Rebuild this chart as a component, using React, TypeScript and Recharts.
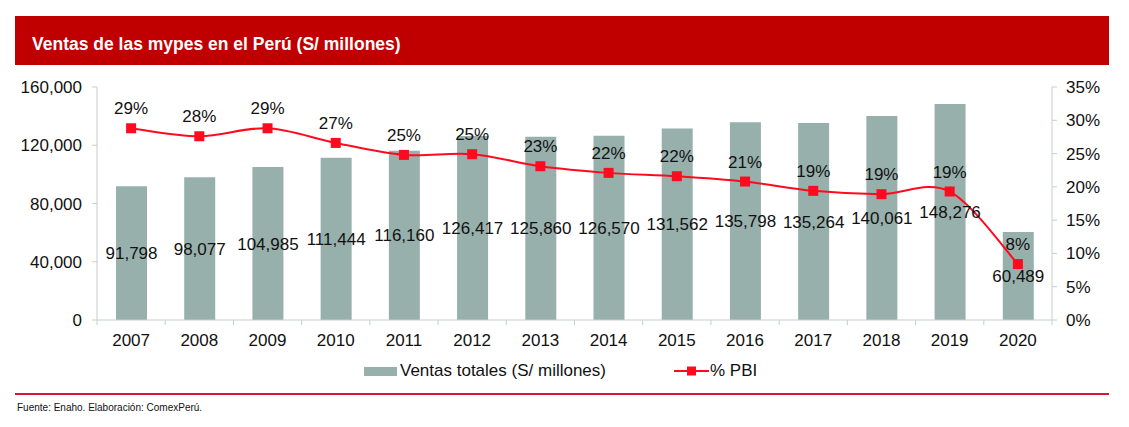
import { ComposedChart, Bar, Line, XAxis, YAxis, LabelList } from "recharts";

const years = ["2007", "2008", "2009", "2010", "2011", "2012", "2013", "2014", "2015", "2016", "2017", "2018", "2019", "2020"];
const ventas = [91798, 98077, 104985, 111444, 116160, 126417, 125860, 126570, 131562, 135798, 135264, 140061, 148276, 60489];
const pbi = [28.8, 27.6, 28.8, 26.6, 24.8, 24.9, 23.1, 22.1, 21.6, 20.8, 19.4, 18.9, 19.3, 8.4];
const leftTicks = [0, 40000, 80000, 120000, 160000];
const rightTicks = [0, 5, 10, 15, 20, 25, 30, 35];

const data = years.map((y, i) => ({ year: y, ventas: ventas[i], pbi: pbi[i] }));

const FONT = "'Liberation Sans', Arial, sans-serif";
const BAR = "#98B0AC";
const RED = "#FF0A1E";
const AXIS = "#C5CFCC";
const BAND = (1052 - 97) / years.length;

// Excel-like smoothing (Catmull-Rom through every point)
function excelCurve(context: any) {
  let pts: number[][] = [];
  return {
    areaStart() {},
    areaEnd() {},
    lineStart() {
      pts = [];
    },
    point(x: number, y: number) {
      pts.push([x, y]);
    },
    lineEnd() {
      if (!pts.length) return;
      context.moveTo(pts[0][0], pts[0][1]);
      for (let i = 0; i < pts.length - 1; i++) {
        const p0 = pts[i - 1] || pts[i];
        const p1 = pts[i];
        const p2 = pts[i + 1];
        const p3 = pts[i + 2] || p2;
        const c1x = p1[0] + (p2[0] - p0[0]) / 6;
        const c1y = p1[1] + (p2[1] - p0[1]) / 6;
        const c2x = p2[0] - (p3[0] - p1[0]) / 6;
        const c2y = p2[1] - (p3[1] - p1[1]) / 6;
        context.bezierCurveTo(c1x, c1y, c2x, c2y, p2[0], p2[1]);
      }
    },
  };
}

const SquareDot = (props: any) => {
  const { cx, cy } = props;
  if (cx == null || cy == null) return null;
  return <rect x={cx - 5} y={cy - 5} width={10} height={10} fill={RED} />;
};

const YearTick = (props: any) => {
  const { x, y, payload, index } = props;
  return (
    <g>
      <line x1={x - BAND / 2} y1={y - 8} x2={x - BAND / 2} y2={y - 3} stroke={AXIS} />
      {index === years.length - 1 && (
        <line x1={x + BAND / 2} y1={y - 8} x2={x + BAND / 2} y2={y - 3} stroke={AXIS} />
      )}
      <text x={x} y={y + 18} textAnchor="middle" fontSize={17} fill="#111" fontFamily={FONT}>
        {payload.value}
      </text>
    </g>
  );
};

export default function App() {
  return (
    <div style={{ position: "absolute", left: 0, top: 0, width: 1129, height: 427, background: "#fff", fontFamily: FONT }}>
      <div
        style={{
          position: "absolute",
          left: 15,
          top: 16,
          width: 1094,
          height: 49,
          background: "#C00000",
          color: "#fff",
          fontWeight: "bold",
          fontSize: 17.5,
          lineHeight: "57px",
          paddingLeft: 17,
          boxSizing: "border-box",
          overflow: "hidden",
        }}
      >
        Ventas de las mypes en el Perú (S/ millones)
      </div>

      <div style={{ position: "absolute", left: 0, top: 0 }}>
        <ComposedChart width={1129} height={350} data={data} margin={{ top: 87, right: 0, bottom: 0, left: 0 }}>
          <XAxis
            dataKey="year"
            height={30}
            axisLine={{ stroke: AXIS }}
            tickLine={false}
            tick={<YearTick />}
            interval={0}
          />
          <YAxis
            yAxisId="left"
            width={97}
            domain={[0, 160000]}
            ticks={leftTicks}
            tickFormatter={(v: number) => v.toLocaleString("en-US")}
            axisLine={{ stroke: AXIS }}
            tickLine={{ stroke: AXIS }}
            tickSize={5}
            tickMargin={10}
            tick={{ fontSize: 17, fill: "#111", fontFamily: FONT }}
          />
          <YAxis
            yAxisId="right"
            orientation="right"
            width={77}
            domain={[0, 35]}
            ticks={rightTicks}
            tickFormatter={(v: number) => `${v}%`}
            axisLine={{ stroke: AXIS }}
            tickLine={{ stroke: AXIS }}
            tickSize={5}
            tickMargin={9}
            tick={{ fontSize: 17, fill: "#111", fontFamily: FONT }}
          />
          <Bar yAxisId="left" dataKey="ventas" fill={BAR} barSize={31} isAnimationActive={false}>
            <LabelList
              dataKey="ventas"
              position="center"
              formatter={(v: any) => Number(v).toLocaleString("en-US")}
              style={{ fontSize: 17, fill: "#111", fontFamily: FONT }}
            />
          </Bar>
          <Line
            yAxisId="right"
            dataKey="pbi"
            type={excelCurve as any}
            stroke={RED}
            strokeWidth={2}
            dot={<SquareDot />}
            activeDot={false}
            isAnimationActive={false}
          >
            <LabelList
              dataKey="pbi"
              position="top"
              offset={14}
              formatter={(v: any) => `${Math.round(Number(v))}%`}
              style={{ fontSize: 17, fill: "#111", fontFamily: FONT }}
            />
          </Line>
        </ComposedChart>
      </div>

      {/* legend */}
      <div style={{ position: "absolute", left: 364, top: 361, height: 20, display: "flex", alignItems: "center", fontSize: 17, color: "#111" }}>
        <span style={{ display: "inline-block", width: 33, height: 9, background: BAR, marginRight: 3 }} />
        <span>Ventas totales (S/ millones)</span>
      </div>
      <div style={{ position: "absolute", left: 674, top: 361, height: 20, display: "flex", alignItems: "center", fontSize: 17, color: "#111" }}>
        <svg width={35} height={12} style={{ marginRight: 1 }}>
          <line x1={0} y1={6} x2={35} y2={6} stroke={RED} strokeWidth={2} />
          <rect x={13} y={1.5} width={9} height={9} fill={RED} />
        </svg>
        <span>% PBI</span>
      </div>

      <div style={{ position: "absolute", left: 15, top: 393, width: 1094, height: 2, background: "#DC1437" }} />
      <div
        style={{
          position: "absolute",
          left: 17,
          top: 402,
          fontSize: 10,
          color: "#111",
          fontFamily: "'Liberation Sans Narrow', 'Liberation Sans', Arial, sans-serif",
        }}
      >
        Fuente: Enaho. Elaboración: ComexPerú.
      </div>
    </div>
  );
}
